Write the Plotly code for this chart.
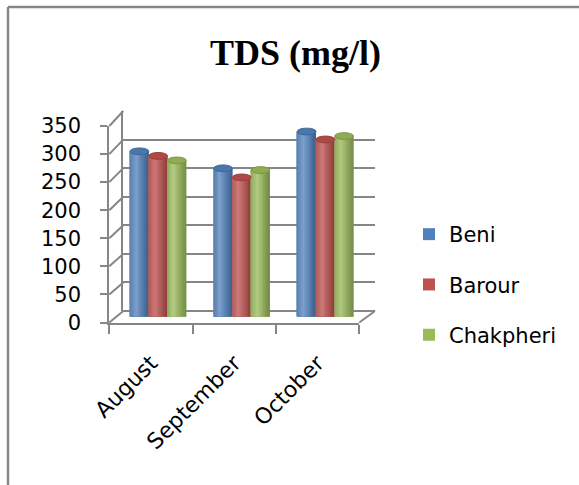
import plotly.graph_objects as go

# ---------------- data ----------------
months = ["August", "September", "October"]
beni = [292, 262, 327]
barour = [284, 246, 313]
chakpheri = [276, 259, 319]
series_names = ["Beni", "Barour", "Chakpheri"]
series_values = [beni, barour, chakpheri]
y_ticks = [0, 50, 100, 150, 200, 250, 300, 350]
title_text = "TDS (mg/l)"

# ---------------- style ----------------
W, H = 579, 485
colors = ["#4F81BD", "#C0504D", "#9BBB59"]
grid_col = "#868686"
font_fam = "DejaVu Sans"
fsize = 21


def px(x):
    return x / W


def py(y):
    return 1 - y / H


# pixel boxes of the three depth planes (back wall, front axes, bar mid-plane)
back_x, back_y = (123.3, 375.0), (311.0, 111.0)
front_x, front_y = (109.3, 359.3), (322.5, 126.0)
mid_x, mid_y = (116.3, 367.2), (316.7, 118.5)
ymax = 350


def hex2rgb(h):
    h = h.lstrip("#")
    return [int(h[i:i + 2], 16) for i in (0, 2, 4)]


def mix(base, f_dark, f_light):
    r, g, b = hex2rgb(base)
    out = [int((c * f_dark) + (255 - c * f_dark) * f_light) for c in (r, g, b)]
    return "rgb(%d,%d,%d)" % tuple(out)


def shade(base, t):
    r, g, b = hex2rgb(base)
    # cylinder shading: highlight near 35% of width, darker edges
    s = 1 - abs(t - 0.35) / 0.65
    dark = [c * 0.74 for c in (r, g, b)]
    light = [c + (255 - c) * 0.25 for c in (r, g, b)]
    out = [int(d + (l - d) * s) for d, l in zip(dark, light)]
    return "rgb(%d,%d,%d)" % tuple(out)


fig = go.Figure()

# invisible traces to create back wall (x/y) and front axes (x2/y2) subplots
fig.add_trace(go.Scatter(x=[0], y=[0], mode="markers", marker=dict(opacity=0),
                         showlegend=False, hoverinfo="skip", xaxis="x", yaxis="y"))
fig.add_trace(go.Scatter(x=months, y=[0] * len(months), mode="markers",
                         marker=dict(opacity=0), showlegend=False, hoverinfo="skip",
                         xaxis="x2", yaxis="y2"))

bar_w = 0.224
n_strips = 10
ry = 6.0  # half height of the cylinder cap ellipse, in data units
shapes = []
for i, (name, vals, col) in enumerate(zip(series_names, series_values, colors)):
    base_off = -1.5 * bar_w + i * bar_w
    fig.add_trace(go.Bar(x=months, y=vals, name=name, marker=dict(color=col, line=dict(width=0)),
                         offset=base_off, width=bar_w, xaxis="x3", yaxis="y3",
                         legendgroup=name, legendrank=i + 1))
    sw = bar_w / n_strips
    for k in range(n_strips):
        t = (k + 0.5) / n_strips
        fig.add_trace(go.Bar(x=months, y=vals, marker=dict(color=shade(col, t), line=dict(width=0)),
                             offset=base_off + k * sw, width=sw * 1.02, showlegend=False,
                             hoverinfo="skip", xaxis="x3", yaxis="y3", legendgroup=name))
    # cylinder caps (top) and rounded bottoms
    for j, v in enumerate(vals):
        x0 = j + base_off
        x1 = j + base_off + bar_w
        shapes.append(dict(type="circle", xref="x3", yref="y3", x0=x0, x1=x1,
                           y0=v - ry, y1=v + ry, fillcolor=mix(col, 0.92, 0.0),
                           line=dict(color=mix(col, 0.8, 0.0), width=1), layer="above"))
        shapes.append(dict(type="circle", xref="x3", yref="y3", x0=x0, x1=x1,
                           y0=-ry, y1=ry, fillcolor=mix(col, 0.8, 0.0),
                           line=dict(width=0), layer="below"))

# diagonals from front axis to back wall at each tick
for v in y_ticks:
    yf = py(front_y[0] + (front_y[1] - front_y[0]) * v / ymax)
    yb = py(back_y[0] + (back_y[1] - back_y[0]) * v / ymax)
    shapes.append(dict(type="line", xref="paper", yref="paper", x0=px(front_x[0]), y0=yf,
                       x1=px(back_x[0]), y1=yb, line=dict(color=grid_col, width=2), layer="below"))
# floor right edge
shapes.append(dict(type="line", xref="paper", yref="paper", x0=px(front_x[1]), y0=py(front_y[0]),
                   x1=px(back_x[1]), y1=py(back_y[0]), line=dict(color=grid_col, width=2), layer="below"))
# chart border (left and top)
shapes.append(dict(type="line", xref="paper", yref="paper", x0=px(8), y0=-0.01, x1=px(8), y1=py(7),
                   line=dict(color="#878787", width=2.5)))
shapes.append(dict(type="line", xref="paper", yref="paper", x0=px(8), y0=py(7), x1=1.01, y1=py(7),
                   line=dict(color="#878787", width=2.5)))

axis_font = dict(family=font_fam, size=fsize, color="#000000")

fig.update_layout(
    width=W, height=H,
    margin=dict(l=0, r=0, t=0, b=0, pad=0, autoexpand=False),
    paper_bgcolor="white", plot_bgcolor="rgba(0,0,0,0)",
    barmode="overlay",
    shapes=shapes,
    title=dict(text="<b>" + title_text + "</b>", x=px(295.5), xanchor="center",
               y=py(52), yanchor="middle",
               font=dict(family="Liberation Serif", size=36, color="#000000")),
    # back wall
    xaxis=dict(domain=[px(back_x[0]), px(back_x[1])], range=[-0.5, 2.5], showgrid=False,
               zeroline=False, showticklabels=False, ticks="", showline=False, anchor="y",
               automargin=False),
    yaxis=dict(domain=[py(back_y[0]), py(back_y[1])], range=[0, ymax], tickvals=y_ticks,
               showgrid=True, gridcolor=grid_col, gridwidth=2, zeroline=True,
               zerolinecolor=grid_col, zerolinewidth=2, showticklabels=False, ticks="",
               showline=True, linecolor=grid_col, linewidth=2, anchor="x", automargin=False),
    # front axes
    xaxis2=dict(domain=[px(front_x[0]), px(front_x[1])], type="category", range=[-0.5, 2.5],
                showgrid=False, zeroline=False, showline=True, linecolor=grid_col, linewidth=2,
                ticks="outside", tickson="boundaries", ticklen=9, tickwidth=2, tickcolor=grid_col,
                tickangle=-45, tickfont=dict(family=font_fam, size=22, color="#000000"),
                ticklabelstandoff=17, anchor="y2", automargin=False),
    yaxis2=dict(domain=[py(front_y[0]), py(front_y[1])], range=[0, ymax], tickvals=y_ticks,
                showgrid=False, zeroline=False, showline=True, linecolor=grid_col, linewidth=2,
                ticks="outside", ticklen=7, tickwidth=2, tickcolor=grid_col, tickfont=axis_font,
                ticklabelstandoff=15, anchor="x2", automargin=False),
    # bar mid-plane
    xaxis3=dict(domain=[px(mid_x[0]), px(mid_x[1])], type="category", range=[-0.5, 2.5],
                showgrid=False, zeroline=False, showline=False, showticklabels=False, ticks="",
                anchor="y3", automargin=False),
    yaxis3=dict(domain=[py(mid_y[0]), py(mid_y[1])], range=[0, ymax], showgrid=False,
                zeroline=False, showline=False, showticklabels=False, ticks="", anchor="x3",
                automargin=False),
    legend=dict(x=px(409), xanchor="left", y=py(214), yanchor="top",
                font=dict(family=font_fam, size=fsize, color="#000000"),
                traceorder="grouped", tracegroupgap=20, bgcolor="rgba(0,0,0,0)"),
    showlegend=True,
)

fig.write_html("out.html")
